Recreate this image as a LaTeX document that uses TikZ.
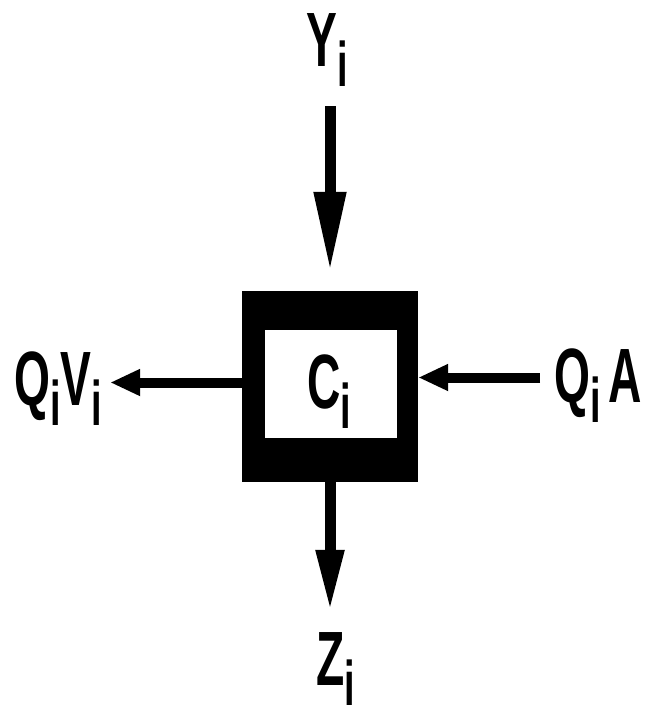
\documentclass[tikz,border=0pt]{standalone}
\usepackage{fontspec}
\setmainfont{Liberation Sans}
\usepackage{graphicx}
\usetikzlibrary{arrows.meta}
\newcommand{\narrowtxt}[1]{\scalebox{0.6}[1]{\fontsize{77}{80}\selectfont\bfseries #1}}
\newcommand{\sub}[1]{\raisebox{-20pt}{\fontsize{63}{66}\selectfont #1}}
\tikzset{
  lbl/.style={inner sep=0pt, anchor=base west},
  vflow/.style={line width=11pt, -{Triangle[length=80pt, width=30pt]}},
  zflow/.style={line width=11pt, -{Triangle[length=62pt, width=26pt]}},
  hflow/.style={line width=10pt, -{Triangle[length=30pt, width=25pt]}}
}
\begin{document}
\begin{tikzpicture}[x=1pt, y=-1pt]
  \useasboundingbox (0,0) rectangle (654,720);
  % tank with heavy wall
  \node[fill=black, minimum width=176pt, minimum height=191pt, inner sep=0pt] (tank) at (330,386.5) {};
  \node[fill=white, minimum width=132pt, minimum height=108pt, inner sep=0pt] (conc) at (331,384) {};
  \node[lbl] (clab) at (307,408) {\narrowtxt{C\sub{i}}};
  % inputs and outputs
  \node[lbl] (ylab) at (306,66) {\narrowtxt{Y\sub{i}}};
  \node[lbl] (zlab) at (316,685) {\narrowtxt{Z\sub{i}}};
  \node[lbl] (lvlab) at (14,405) {\narrowtxt{Q\sub{i}V\sub{i}}};
  \node[lbl] (ralab) at (554,402) {\narrowtxt{Q\sub{i}\,A}};
  \coordinate (outl) at ([yshift=4pt]tank.west);
  \coordinate (inr) at ([yshift=9pt]tank.east);
  % flows
  \draw[vflow, shorten <=20pt, shorten >=19pt] (ylab.south -| tank.north) -- (tank.north);
  \draw[zflow, shorten >=20pt] (tank.south) -- (zlab.north -| tank.south);
  \draw[hflow, shorten >=8pt] (outl) -- (lvlab.east |- outl);
  \draw[hflow, shorten <=14pt] (ralab.west |- inr) -- (inr);
\end{tikzpicture}
\end{document}
